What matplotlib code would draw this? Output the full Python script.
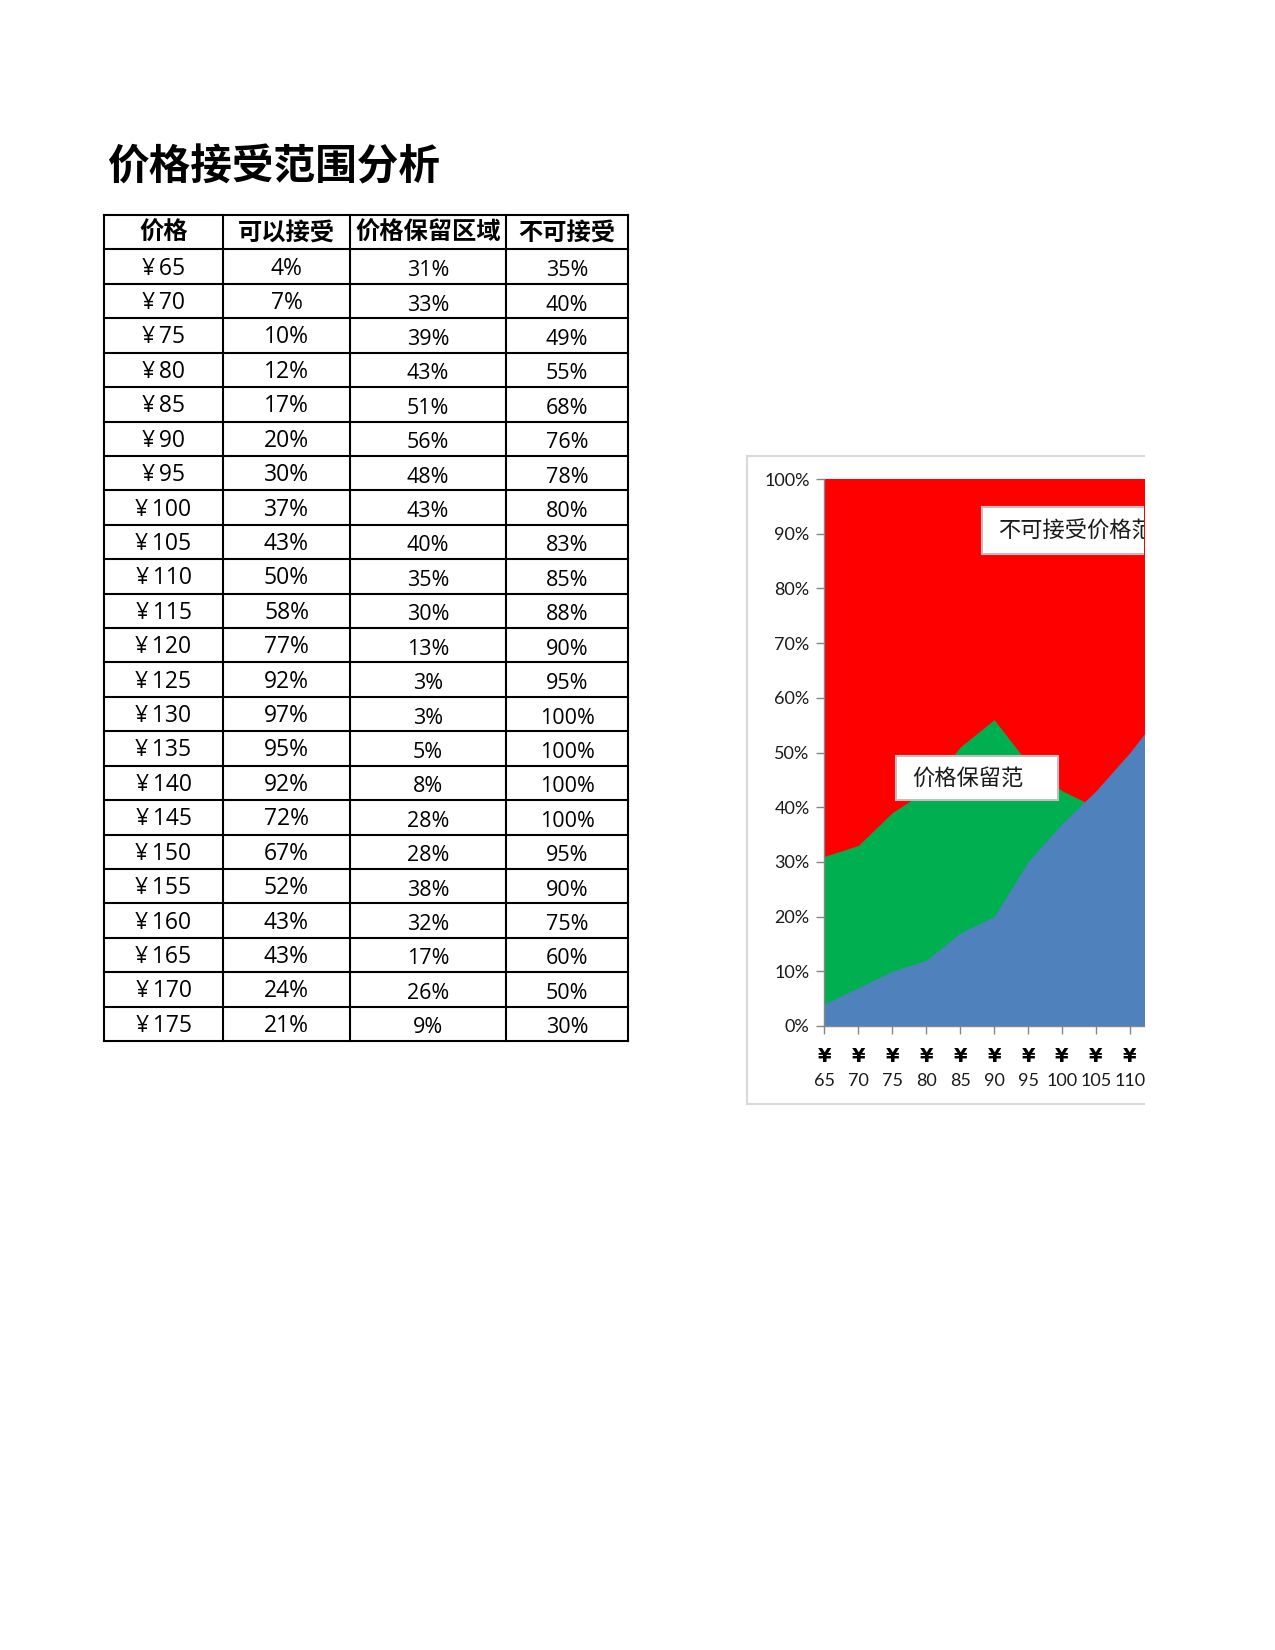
import matplotlib
matplotlib.use("Agg")
import matplotlib.pyplot as plt
from matplotlib.patches import Rectangle
from matplotlib.transforms import blended_transform_factory

plt.rcParams['font.family'] = ['Noto Sans CJK SC', 'DejaVu Sans']

# ---------------- data ----------------
title = "价格接受范围分析"
headers = ["价格", "可以接受", "价格保留区域", "不可接受"]
prices = [65, 70, 75, 80, 85, 90, 95, 100, 105, 110, 115, 120,
          125, 130, 135, 140, 145, 150, 155, 160, 165, 170, 175]
acceptable = [4, 7, 10, 12, 17, 20, 30, 37, 43, 50, 58, 77,
              92, 97, 95, 92, 72, 67, 52, 43, 43, 24, 21]
reserve = [31, 33, 39, 43, 51, 56, 48, 43, 40, 35, 30, 13,
           3, 3, 5, 8, 28, 28, 38, 32, 17, 26, 9]
unacceptable = [35, 40, 49, 55, 68, 76, 78, 80, 83, 85, 88, 90,
                95, 100, 100, 100, 100, 95, 90, 75, 60, 50, 30]
# red band drawn behind the other areas (top of chart)
red_band = [100, 100, 100, 100, 100, 100, 100, 100, 100, 100, 100, 100,
            100, 100, 100, 100, 100, 100, 100, 100, 100, 100, 100]
yticks = [0, 10, 20, 30, 40, 50, 60, 70, 80, 90, 100]
label_unacc = "不可接受价格范围"
label_reserve = "价格保留范"

C_RED = "#FF0000"
C_GREEN = "#00B050"
C_BLUE = "#4F81BD"

W, H = 1275, 1650
fig = plt.figure(figsize=(W / 100, H / 100), dpi=100)

# pixel-coordinate background axes
bg = fig.add_axes([0, 0, 1, 1], zorder=0)
bg.set_xlim(0, W)
bg.set_ylim(H, 0)
bg.axis("off")

# ---------------- title ----------------
bg.text(107, 167, title, fontsize=30, fontweight="bold", va="center", ha="left",
        color="black")

# ---------------- table ----------------
col_x = [104, 223, 350, 506, 628]
top, bottom = 215, 1041
nrows = len(prices) + 1
rh = (bottom - top) / nrows
lw = 1.5
for cx in col_x:
    bg.plot([cx, cx], [top, bottom], color="black", lw=lw, solid_capstyle="projecting")
for r in range(nrows + 1):
    yy = top + r * rh
    bg.plot([col_x[0], col_x[-1]], [yy, yy], color="black", lw=lw,
            solid_capstyle="projecting")

for c, htxt in enumerate(headers):
    cx = (col_x[c] + col_x[c + 1]) / 2
    bg.text(cx, top + rh / 2 + 1, htxt, fontsize=17.5, fontweight="bold",
            ha="center", va="center")

body_font = ["Open Sans", "DejaVu Sans", "Noto Sans CJK SC"]
for r in range(len(prices)):
    cy = top + (r + 1) * rh + rh / 2
    row = [f"¥\u2009{prices[r]}", f"{acceptable[r]}%", f"{reserve[r]}%",
           f"{unacceptable[r]}%"]
    for c, txt in enumerate(row):
        cx = (col_x[c] + col_x[c + 1]) / 2
        dy = 2 if c < 2 else 4
        bg.text(cx, cy + dy, txt, fontsize=16.5 if c < 2 else 15.5,
                family=body_font, ha="center", va="center")

# ---------------- chart frame ----------------
frame_c = "#d9d9d9"
fl, ft, fb, fr = 747, 456, 1104, 1144
bg.plot([fl, fl], [ft, fb], color=frame_c, lw=1.5)
bg.plot([fl, fr], [ft, ft], color=frame_c, lw=1.5)
bg.plot([fl, fr], [fb, fb], color=frame_c, lw=1.5)

# ---------------- chart ----------------
ax_l, ax_r, ax_t, ax_b = 824.3, 1144, 479, 1026
ax = fig.add_axes([ax_l / W, (H - ax_b) / H, (ax_r - ax_l) / W, (ax_b - ax_t) / H],
                  zorder=1)
x = list(range(len(prices)))
step = 33.96

ax.fill_between(x, 0, red_band, color=C_RED, lw=0)
ax.fill_between(x, 0, reserve, color=C_GREEN, lw=0)
ax.fill_between(x, 0, acceptable, color=C_BLUE, lw=0)

for s in ["top", "right"]:
    ax.spines[s].set_visible(False)
ax.spines["left"].set_color("#868686")
ax.spines["bottom"].set_color("#868686")
ax.spines["left"].set_linewidth(1)
ax.spines["bottom"].set_linewidth(1)

ax.set_yticks(yticks)
ax.set_yticklabels([f"{v}%" for v in yticks], family=["Lato", "DejaVu Sans"],
                   fontsize=13, color="#1a1a1a")
ax.set_xticks(x)
ax.set_xticklabels([])
ax.tick_params(axis="both", direction="out", length=5.5, width=1, color="#868686")
ax.tick_params(axis="y", pad=5)

# chart is cut off at the print edge: show only the first part of the x range
ax.set_xlim(0, (ax_r - ax_l) / step)
ax.set_ylim(0, 100)

blend = blended_transform_factory(ax.transData, bg.transData)
xmax = ax.get_xlim()[1]
for i, p in enumerate(prices):
    if i <= xmax:
        ax.text(i, 1057, "¥", transform=blend, ha="center", va="center",
                fontsize=14, fontweight="bold", family=["DejaVu Sans"],
                clip_on=False, color="black")
        ax.text(i, 1081, str(p), transform=blend, ha="center", va="center",
                fontsize=13, family=["Lato", "DejaVu Sans"], clip_on=False,
                color="#1a1a1a")

# ---------------- label boxes (clipped at chart edge) ----------------
box_edge = "#bfbfbf"
r1 = Rectangle((982, 507), 260, 47, transform=bg.transData, facecolor="white",
               edgecolor=box_edge, lw=1.5, zorder=5)
ax.add_patch(r1)
r1.set_clip_path(ax.patch)
t1 = ax.text(998, 531, label_unacc, transform=bg.transData, fontsize=16,
             ha="left", va="center", zorder=6, clip_on=True, color="#1a1a1a")
t1.set_clip_path(ax.patch)

r2 = Rectangle((896, 756), 162, 44, transform=bg.transData, facecolor="white",
               edgecolor=box_edge, lw=1.5, zorder=5)
ax.add_patch(r2)
t2 = ax.text(912, 778, label_reserve, transform=bg.transData, fontsize=16,
             ha="left", va="center", zorder=6, clip_on=True, color="#1a1a1a")
t2.set_clip_path(ax.patch)

fig.savefig("out.png", dpi=100)
